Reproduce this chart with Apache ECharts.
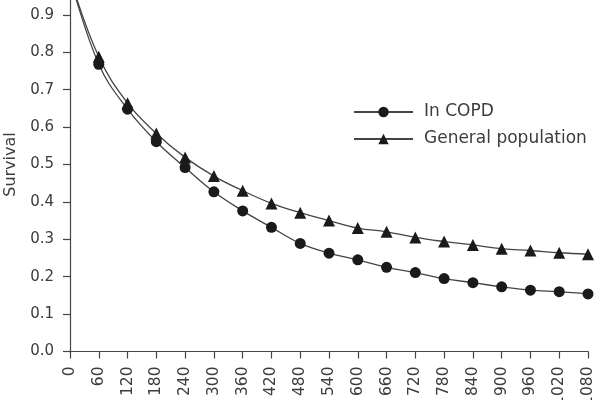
<!DOCTYPE html>
<html>
<head>
<meta charset="utf-8">
<script src="https://cdn.jsdelivr.net/npm/echarts@6/dist/echarts.min.js"></script>
<style>html,body{margin:0;padding:0;background:#fff}#c{width:600px;height:400px}</style>
</head>
<body>
<div id="c"></div>
<script>
var days = [0, 60, 120, 180, 240, 300, 360, 420, 480, 540, 600, 660, 720, 780, 840, 900, 960, 1020, 1080];
var copd = [1.0, 0.768, 0.648, 0.561, 0.492, 0.427, 0.376, 0.332, 0.289, 0.263, 0.245, 0.225, 0.211, 0.195, 0.184, 0.173, 0.164, 0.160, 0.154];
var general = [1.0, 0.788, 0.664, 0.583, 0.519, 0.469, 0.430, 0.396, 0.371, 0.350, 0.330, 0.320, 0.305, 0.294, 0.285, 0.275, 0.270, 0.264, 0.260];
var seriesNames = ['In COPD', 'General population'];

function pairs(vals) { return days.map(function (d, i) { return [d, vals[i]]; }); }

var chart = echarts.init(document.getElementById('c'), null, { renderer: 'canvas' });
var font = 'DejaVu Sans';
var txt = '#3c3c3c';
chart.setOption({
  animation: false,
  backgroundColor: '#fff',
  textStyle: { fontFamily: font },
  grid: { left: 70, right: 12, top: -22.5, bottom: 48.5, containLabel: false, outerBoundsMode: 'none' },
  legend: {
    left: 348, top: 98.5, orient: 'vertical', itemWidth: 59, itemHeight: 13, itemGap: 10,
    textStyle: { fontFamily: font, fontSize: 17, color: txt, padding: [0, 0, 0, 6] },
    data: seriesNames
  },
  xAxis: {
    type: 'value', min: 0, max: 1080, interval: 60,
    axisLine: { lineStyle: { color: '#444', width: 1.2 } },
    axisTick: { length: 7, lineStyle: { color: '#444', width: 1.2 } },
    axisLabel: { rotate: 90, margin: 15, fontSize: 15.5, color: txt, fontFamily: font, formatter: function (v) { return String(v); } },
    splitLine: { show: false }
  },
  yAxis: {
    type: 'value', min: 0, max: 1.0, interval: 0.1,
    name: 'Survival', nameLocation: 'middle', nameGap: 45,
    nameTextStyle: { fontSize: 16, color: txt, fontFamily: font },
    axisLine: { show: true, lineStyle: { color: '#444', width: 1.2 } },
    axisTick: { show: true, length: 7, lineStyle: { color: '#444', width: 1.2 } },
    axisLabel: { margin: 16, fontSize: 15, color: txt, fontFamily: font, formatter: function (v) { return v.toFixed(1); } },
    splitLine: { show: false }
  },
  series: [
    {
      name: seriesNames[0], type: 'line', data: pairs(copd), smooth: 0.4,
      symbol: 'circle', symbolSize: 11,
      lineStyle: { color: '#444', width: 1.3 },
      itemStyle: { color: '#1a1a1a', borderWidth: 0 }
    },
    {
      name: seriesNames[1], type: 'line', data: pairs(general), smooth: 0.4,
      symbol: 'triangle', symbolSize: 12,
      lineStyle: { color: '#444', width: 1.3 },
      itemStyle: { color: '#1a1a1a', borderWidth: 0 }
    }
  ]
});
</script>
</body>
</html>
